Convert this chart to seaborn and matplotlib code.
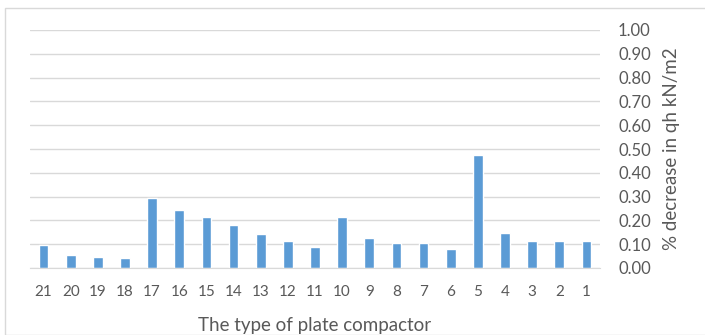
import pandas as pd
import matplotlib
matplotlib.use("Agg")
import matplotlib.pyplot as plt
import seaborn as sns
from matplotlib.ticker import FormatStrFormatter, MultipleLocator
from matplotlib.patches import Rectangle

# plate compactor types, as shown left to right
compactor = ["21", "20", "19", "18", "17", "16", "15", "14", "13", "12", "11",
             "10", "9", "8", "7", "6", "5", "4", "3", "2", "1"]
# % decrease in qh (kN/m2)
decrease = [0.095, 0.055, 0.048, 0.043, 0.295, 0.243, 0.215, 0.181, 0.142, 0.115, 0.088,
            0.215, 0.128, 0.106, 0.106, 0.080, 0.475, 0.147, 0.114, 0.114, 0.114]

df = pd.DataFrame({"compactor": compactor, "decrease": decrease})

sns.set_style("white")
plt.rcParams["font.family"] = ["Lato", "DejaVu Sans"]

fig = plt.figure(figsize=(7.05, 3.35), dpi=100)
ax = fig.add_axes([30 / 705, 1 - 268 / 335, 570 / 705, 238 / 335])

sns.barplot(data=df, x="compactor", y="decrease", order=compactor,
            color="#5B9BD5", saturation=1, width=0.36, ax=ax, zorder=3)

ax.set_ylim(0, 1.0)
ax.yaxis.set_major_locator(MultipleLocator(0.1))
ax.yaxis.set_major_formatter(FormatStrFormatter("%.2f"))
ax.yaxis.tick_right()
ax.yaxis.set_label_position("right")
ax.grid(axis="y", color="#D9D9D9", linewidth=1, zorder=0)
ax.set_axisbelow(True)

for side in ["top", "left", "right"]:
    ax.spines[side].set_visible(False)
ax.spines["bottom"].set_color("#D9D9D9")
ax.spines["bottom"].set_zorder(4)

ax.tick_params(axis="both", length=0, colors="#595959")
ax.tick_params(axis="y", pad=13, labelsize=12)
ax.tick_params(axis="x", pad=12, labelsize=11)
ax.set_xlabel("The type of plate compactor", fontsize=13.5, color="#595959", labelpad=13)
ax.set_ylabel("% decrease in qh kN/m2", fontsize=13.5, color="#595959", labelpad=9)

# light frame around the chart area
fig.patches.append(Rectangle((5 / 705, 0), 710 / 705, 1 - 8 / 335, transform=fig.transFigure,
                             fill=False, edgecolor="#D9D9D9", linewidth=1))

fig.savefig("out.png", dpi=100)
